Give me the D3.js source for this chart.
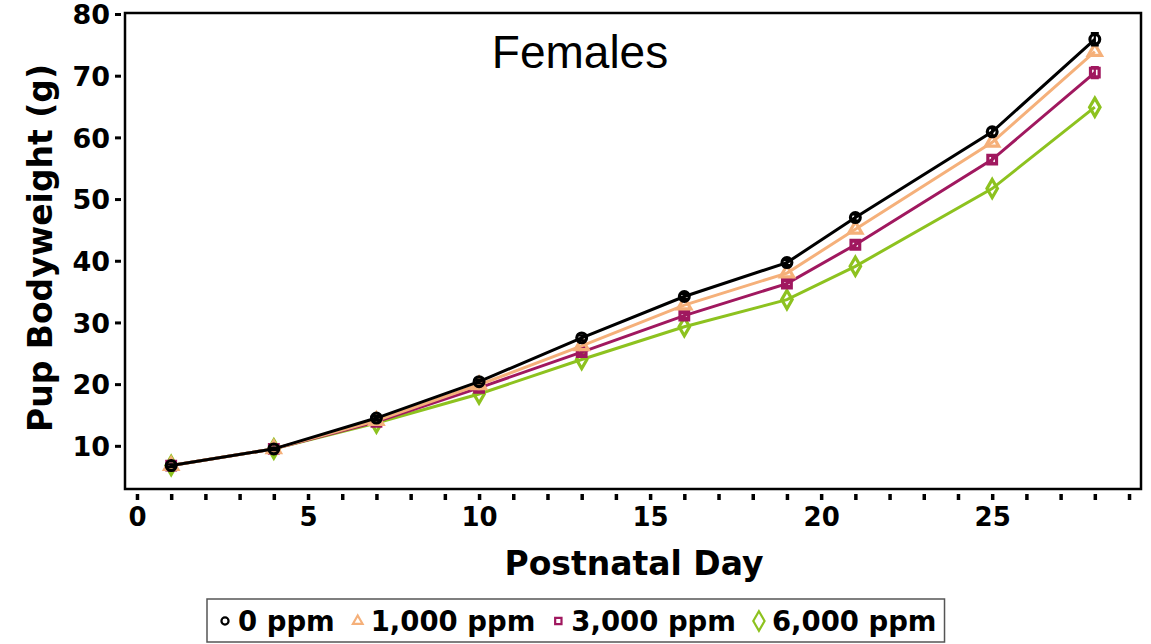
<!DOCTYPE html>
<html>
  <head>
    <style>
      body { margin: 0; background: #fff; }
      svg text { font-family: 'DejaVu Sans', sans-serif; }
    </style>
  </head>

  <body>

    <svg class="surface" width="1151" height="644"></svg>

    <script src="https://cdn.jsdelivr.net/npm/d3@7/dist/d3.min.js" charset="utf-8"></script>
    <script>

      // postnatal days
      const days = [1, 4, 7, 10, 13, 16, 19, 21, 25, 28]

      // mean pup bodyweight (g) per dose group
      const ppm0    = [6.8, 9.5, 14.5, 20.4, 27.5, 34.2, 39.7, 47.0, 60.9, 75.9]
      const ppm1000 = [6.8, 9.5, 14.1, 19.9, 26.2, 32.8, 38.0, 45.1, 59.2, 73.9]
      const ppm3000 = [6.8, 9.5, 13.9, 19.4, 25.2, 31.1, 36.3, 42.6, 56.4, 70.5]
      const ppm6000 = [6.8, 9.5, 13.7, 18.4, 24.0, 29.3, 33.7, 39.1, 51.7, 64.9]

      // rough error bar half-widths, only visible on the last day
      const err0    = [0.2, 0.2, 0.3, 0.3, 0.4, 0.4, 0.4, 0.5, 0.6, 1.0]
      const err3000 = [0.2, 0.2, 0.3, 0.3, 0.4, 0.4, 0.4, 0.5, 0.6, 0.9]

      const legendLabels = ['0 ppm', '1,000 ppm', '3,000 ppm', '6,000 ppm']
      const yTicks = [10, 20, 30, 40, 50, 60, 70, 80]
      const xLabelTicks = [0, 5, 10, 15, 20, 25]

      const series = [
        { name: legendLabels[0], values: ppm0, err: err0, color: '#000000', shape: d3.symbolCircle },
        { name: legendLabels[1], values: ppm1000, err: null, color: '#f5b07a', shape: d3.symbolTriangle },
        { name: legendLabels[2], values: ppm3000, err: err3000, color: '#a0185f', shape: d3.symbolSquare },
        { name: legendLabels[3], values: ppm6000, err: null, color: '#8dc21f', shape: d3.symbolDiamond }
      ]

      const surface = d3.select('.surface')

      const plotLeft = 125, plotRight = 1141, plotTop = 13, plotBottom = 489

      const x = d3.scaleLinear().domain([-0.35, 29.35]).range([plotLeft, plotRight])
      const y = d3.scaleLinear().domain([3, 80]).range([plotBottom, 14])

      // title
      surface.append('text')
        .attr('x', 580).attr('y', 68)
        .attr('text-anchor', 'middle')
        .style('font-family', "'Liberation Sans', Arial, sans-serif")
        .style('font-size', '46px')
        .text('Females')

      // y axis (offset from frame)
      const yAxis = surface.append('g')
        .attr('transform', `translate(${plotLeft - 4},0)`)
        .call(d3.axisLeft(y).tickValues(yTicks).tickSize(6).tickPadding(5))
      yAxis.select('.domain').remove()
      yAxis.selectAll('line').attr('stroke-width', 3)
      yAxis.selectAll('text')
        .style('font-size', '27px').style('font-weight', 'bold')
        .attr('dy', '0.36em')

      // x axis (minor ticks every day, labels every 5)
      const xAxis = surface.append('g')
        .attr('transform', `translate(0,${plotBottom + 5})`)
        .call(d3.axisBottom(x).tickValues(d3.range(0, 30)).tickSize(6).tickPadding(8)
          .tickFormat(d => xLabelTicks.includes(d) ? d : ''))
      xAxis.select('.domain').remove()
      xAxis.selectAll('line').attr('stroke-width', 3.5)
      xAxis.selectAll('text')
        .style('font-size', '26px').style('font-weight', 'bold')

      // axis titles
      surface.append('text')
        .attr('x', 634).attr('y', 575)
        .attr('text-anchor', 'middle')
        .style('font-size', '33px').style('font-weight', 'bold')
        .text('Postnatal Day')

      surface.append('text')
        .attr('transform', 'translate(52,248) rotate(-90)')
        .attr('text-anchor', 'middle')
        .style('font-size', '33px').style('font-weight', 'bold')
        .text('Pup Bodyweight (g)')

      // frame
      surface.append('rect')
        .attr('x', plotLeft).attr('y', plotTop)
        .attr('width', plotRight - plotLeft).attr('height', plotBottom - plotTop)
        .attr('fill', 'none').attr('stroke', '#000').attr('stroke-width', 2.5)

      const line = d3.line().x((d, i) => x(days[i])).y(d => y(d))

      const plot = surface.append('g')

      // draw from 6000 up to 0 so black sits on top
      series.slice().reverse().forEach(s => {
        const g = plot.append('g')

        g.append('path')
          .datum(s.values)
          .attr('d', line)
          .attr('fill', 'none')
          .attr('stroke', s.color)
          .attr('stroke-width', 3)

        if (s.err) {
          g.selectAll('.err').data(s.values).enter()
            .append('path')
            .attr('class', 'err')
            .attr('d', (d, i) => {
              const cx = x(days[i]), e = s.err[i]
              return `M${cx},${y(d - e)}V${y(d + e)}M${cx - 4},${y(d + e)}H${cx + 4}M${cx - 4},${y(d - e)}H${cx + 4}`
            })
            .attr('stroke', s.color).attr('stroke-width', 2.2).attr('fill', 'none')
        }

        g.selectAll('.pt').data(s.values).enter()
          .append('path')
          .attr('class', 'pt')
          .attr('transform', (d, i) => `translate(${x(days[i])},${y(d)})`)
          .attr('d', d3.symbol().type(s.shape).size(s.shape === d3.symbolDiamond ? 95 : 75))
          .attr('fill', 'none')
          .attr('stroke', s.color)
          .attr('stroke-width', 3.2)
      })

      // legend
      const legend = surface.append('g')
      const box = legend.append('rect')
        .attr('fill', '#fff').attr('stroke', '#555').attr('stroke-width', 1.5)

      let lx = 218
      const ly = 621
      series.forEach(s => {
        legend.append('path')
          .attr('transform', `translate(${lx + 7},${ly})`)
          .attr('d', d3.symbol().type(s.shape).size(s.shape === d3.symbolDiamond ? 110 : 40))
          .attr('fill', 'none').attr('stroke', s.color).attr('stroke-width', 2.2)
        const t = legend.append('text')
          .attr('x', lx + 20).attr('y', ly + 10)
          .style('font-size', '27.5px').style('font-weight', 'bold')
          .text(s.name)
        lx += 20 + t.node().getComputedTextLength() + 16
      })
      box.attr('x', 207).attr('y', 599).attr('width', lx - 207 - 8).attr('height', 43)

    </script>
  </body>

</html>
